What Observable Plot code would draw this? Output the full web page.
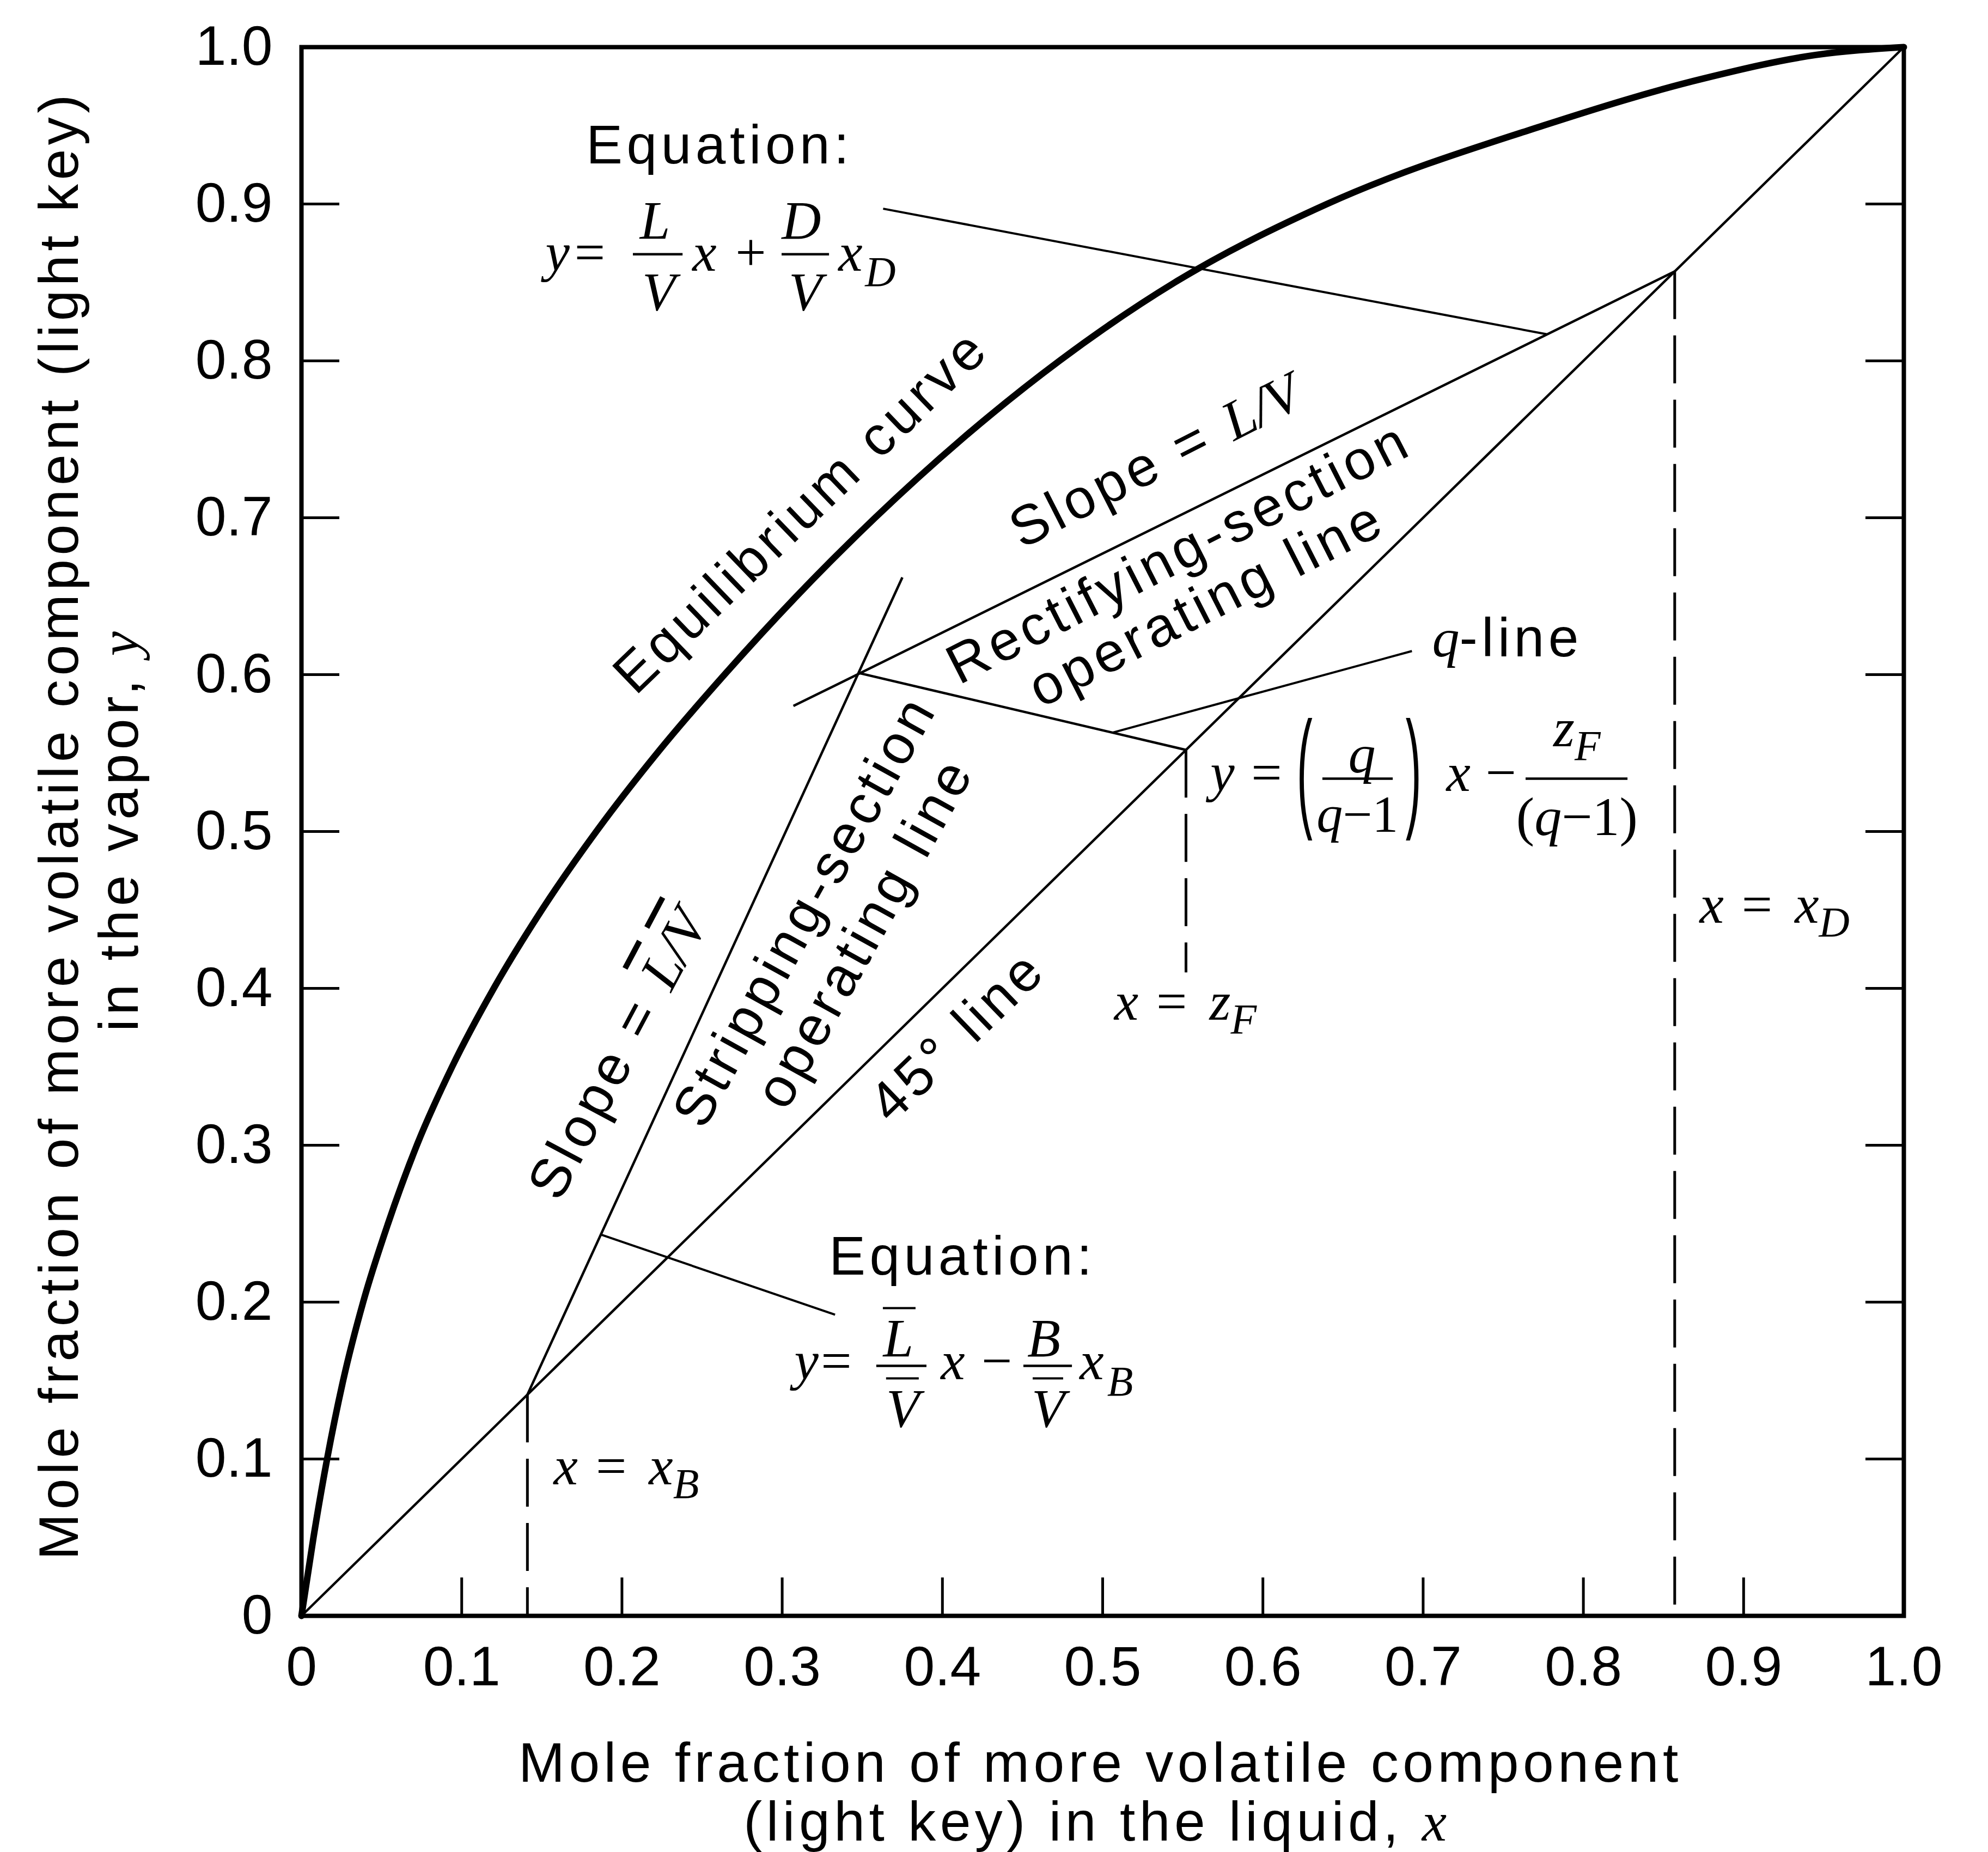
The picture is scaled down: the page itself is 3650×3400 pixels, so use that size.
<!DOCTYPE html>
<html>
<head>
<meta charset="utf-8">
<script src="https://cdn.jsdelivr.net/npm/d3@7"></script>
<script src="https://cdn.jsdelivr.net/npm/@observablehq/plot@0.6"></script>
<style>
  html, body { margin: 0; padding: 0; background: #fff; }
  #chart svg { display: block; }
</style>
</head>
<body>
<div id="chart"></div>
<script>
// McCabe–Thiele diagram: equilibrium curve, 45° line, rectifying and
// stripping operating lines, q-line and the composition markers.

// Equilibrium curve, y against x
const eqX = [0, 0.0075, 0.016, 0.026, 0.0385, 0.054, 0.072, 0.094, 0.120, 0.150, 0.184, 0.222, 0.264, 0.309, 0.358, 0.412, 0.473, 0.545, 0.640, 0.775, 0.875, 0.945, 1.0];
const eqY = [0, 0.050, 0.100, 0.150, 0.200, 0.250, 0.300, 0.350, 0.400, 0.450, 0.500, 0.550, 0.600, 0.650, 0.700, 0.750, 0.800, 0.850, 0.900, 0.950, 0.980, 0.995, 1.0];

// Key compositions
const xB = 0.141;   // bottoms
const zF = 0.552;   // feed
const xD = 0.857;   // distillate

// Where the operating lines and the q-line meet
const pinch = {x: 0.348, y: 0.601};

// Straight lines of the construction
const diagonal = [0, 1];
const operatingLines = [
  {name: "rectifying", x1: 0.307, y1: 0.580, x2: xD, y2: xD},
  {name: "stripping", x1: xB, y1: xB, x2: 0.375, y2: 0.662},
  {name: "q-line", x1: pinch.x, y1: pinch.y, x2: zF, y2: zF}
];
const leaders = [
  {x1: 0.363, y1: 0.897, x2: 0.777, y2: 0.817},
  {x1: 0.506, y1: 0.563, x2: 0.693, y2: 0.615},
  {x1: 0.187, y1: 0.243, x2: 0.333, y2: 0.192}
];
const dropLines = [
  {x: xB, top: xB, bottom: 0},
  {x: zF, top: zF, bottom: 0.41},
  {x: xD, top: xD, bottom: 0}
];

// Axis ticks
const ticks = [0, 0.1, 0.2, 0.3, 0.4, 0.5, 0.6, 0.7, 0.8, 0.9, 1.0];
const tickLabels = ["0", "0.1", "0.2", "0.3", "0.4", "0.5", "0.6", "0.7", "0.8", "0.9", "1.0"];
const innerTicks = ticks.slice(1, -1);

const SANS = "'Liberation Sans', Arial, Helvetica, sans-serif";
const SERIF = "'Liberation Serif', 'Times New Roman', Times, serif";

// Fraction bars and overbars of the printed equations
const fractionBars = [
  {y: 0.868, x1: 0.207, x2: 0.238},
  {y: 0.868, x1: 0.2998, x2: 0.3294},
  {y: 0.5337, x1: 0.6373, x2: 0.6812},
  {y: 0.5337, x1: 0.7641, x2: 0.8277},
  {y: 0.1594, x1: 0.3589, x2: 0.3902},
  {y: 0.1594, x1: 0.4507, x2: 0.481}
];
const overBars = [
  {y: 0.1962, x1: 0.363, x2: 0.3834},
  {y: 0.1514, x1: 0.365, x2: 0.3854},
  {y: 0.1514, x1: 0.4565, x2: 0.4755}
];

// Text annotations: parts are [kind, string]
// s = sans, i = serif italic, r = serif roman, w = roman with wide spacing,
// o = italic with overbar, b = italic subscript
const labels = [
  // rectifying-section equation
  {x: 0.261, y: 0.9257, parts: [["s", "Equation:"]]},
  {x: 0.1523, y: 0.8573, anchor: "start", parts: [["i", "y"]]},
  {x: 0.180, y: 0.8573, parts: [["r", "="]]},
  {x: 0.2206, y: 0.8778, parts: [["i", "L"]]},
  {x: 0.223, y: 0.8326, parts: [["i", "V"]]},
  {x: 0.2515, y: 0.8573, parts: [["i", "x"]]},
  {x: 0.2804, y: 0.8573, parts: [["r", "+"]]},
  {x: 0.312, y: 0.8781, parts: [["i", "D"]]},
  {x: 0.3144, y: 0.8326, parts: [["i", "V"]]},
  {x: 0.3426, y: 0.8573, parts: [["i", "x"]]},
  {x: 0.3613, y: 0.8476, size: 78, parts: [["i", "D"]]},

  // q-line equation
  {x: 0.7056, y: 0.6115, anchor: "start", parts: [["i", "q"], ["s", "-line"]]},
  {x: 0.5748, y: 0.5257, parts: [["i", "y"]]},
  {x: 0.6023, y: 0.5257, parts: [["r", "="]]},
  {x: 0.6265, y: 0.5115, size: 242, sx: 0.36, parts: [["s", "("]]},
  {x: 0.6618, y: 0.5378, parts: [["i", "q"]]},
  {x: 0.6590, y: 0.500, size: 96, parts: [["i", "q"], ["r", "−1"]]},
  {x: 0.6945, y: 0.5115, size: 242, sx: 0.36, parts: [["s", ")"]]},
  {x: 0.722, y: 0.5257, parts: [["i", "x"]]},
  {x: 0.7485, y: 0.5257, parts: [["r", "−"]]},
  {x: 0.796, y: 0.5545, parts: [["i", "z"], ["b", "F"]]},
  {x: 0.796, y: 0.4979, parts: [["r", "("], ["i", "q"], ["r", "−1)"]]},
  {x: 0.5072, y: 0.3802, anchor: "start", parts: [["i", "x"], ["w", " = "], ["i", "z"], ["b", "F"]]},
  {x: 0.8725, y: 0.442, anchor: "start", parts: [["i", "x"], ["w", " = "], ["i", "x"], ["b", "D"]]},

  // stripping-section equation
  {x: 0.4126, y: 0.2177, parts: [["s", "Equation:"]]},
  {x: 0.3076, y: 0.1507, anchor: "start", parts: [["i", "y"]]},
  {x: 0.3338, y: 0.1507, parts: [["r", "="]]},
  {x: 0.3725, y: 0.1653, parts: [["i", "L"]]},
  {x: 0.3753, y: 0.1205, parts: [["i", "V"]]},
  {x: 0.4065, y: 0.1507, parts: [["i", "x"]]},
  {x: 0.434, y: 0.1507, parts: [["r", "−"]]},
  {x: 0.4633, y: 0.1653, parts: [["i", "B"]]},
  {x: 0.466, y: 0.1205, parts: [["i", "V"]]},
  {x: 0.4932, y: 0.1507, parts: [["i", "x"]]},
  {x: 0.5109, y: 0.1406, size: 78, parts: [["i", "B"]]},
  {x: 0.1574, y: 0.084, anchor: "start", parts: [["i", "x"], ["w", " = "], ["i", "x"], ["b", "B"]]},

  // labels set along the lines
  {x: 0.312, y: 0.704, rotate: -44, line: "middle", size: 102, parts: [["s", "Equilibrium curve"]]},
  {x: 0.533, y: 0.736, rotate: -27, line: "middle", size: 102, parts: [["s", "Slope = "], ["i", "L/V"]]},
  {x: 0.5476, y: 0.6774, rotate: -27, line: "middle", size: 102, parts: [["s", "Rectifying-section"]]},
  {x: 0.565, y: 0.6451, rotate: -27, line: "middle", size: 102, parts: [["s", "operating line"]]},
  {x: 0.3144, y: 0.4493, rotate: -61, line: "middle", size: 102, parts: [["s", "Stripping-section"]]},
  {x: 0.3518, y: 0.4354, rotate: -61, line: "middle", size: 102, parts: [["s", "operating line"]]},
  {x: 0.1978, y: 0.358, rotate: -62, line: "middle", size: 102, parts: [["s", "Slope = "], ["o", "L"], ["i", "/"], ["o", "V"]]},
  {x: 0.4096, y: 0.3694, rotate: -44, line: "middle", size: 102, parts: [["s", "45° line"]]},

  // axis titles
  {x: -0.1397, y: 0.504, rotate: -90, size: 102, parts: [["s", "Mole fraction of more volatile component (light key)"]]},
  {x: -0.102, y: 0.5, rotate: -90, size: 102, parts: [["s", "in the vapor, "], ["i", "y"]]},
  {x: 0.4986, y: -0.1056, size: 102, parts: [["s", "Mole fraction of more volatile component"]]},
  {x: 0.4953, y: -0.1431, size: 102, parts: [["s", "(light key) in the liquid, "], ["i", "x"]]}
].map((d, i) => ({...d, id: `note-${i}`}));

function textMark(spec) {
  const plain = spec.parts.map((p) => p[1]).join("");
  const first = spec.parts[0][0];
  return Plot.text([spec], {
    x: "x",
    y: "y",
    text: () => plain,
    textAnchor: spec.anchor ?? "middle",
    lineAnchor: spec.line ?? "bottom",
    rotate: spec.rotate ?? 0,
    fontSize: spec.size ?? 100,
    fontFamily: first === "s" ? SANS : SERIF,
    fill: "#000",
    ariaLabel: () => spec.id
  });
}

const plot = Plot.plot({
  width: 3650,
  height: 3400,
  marginLeft: 553,
  marginRight: 155,
  marginTop: 86,
  marginBottom: 434,
  style: {fontFamily: SANS, fontSize: "102px", color: "#000", background: "#fff"},
  x: {domain: [0, 1], ticks, tickFormat: (d) => tickLabels[ticks.indexOf(d)], tickSize: 0, tickPadding: 55, label: null},
  y: {domain: [0, 1], ticks, tickFormat: (d) => tickLabels[ticks.indexOf(d)], tickSize: 0, tickPadding: 53, label: null},
  marks: [
    // inward tick marks on the left, right and bottom edges
    Plot.ruleY(innerTicks, {y: (d) => d, x1: 0, x2: 0, insetLeft: 70, stroke: "#000", strokeWidth: 5}),
    Plot.ruleY(innerTicks, {y: (d) => d, x1: 1, x2: 1, insetRight: 70, stroke: "#000", strokeWidth: 5}),
    Plot.ruleX(innerTicks, {x: (d) => d, y1: 0, y2: 0, insetBottom: 70, stroke: "#000", strokeWidth: 5}),

    // 45° line
    Plot.line(diagonal, {x: (d) => d, y: (d) => d, stroke: "#000", strokeWidth: 4.5}),

    // operating lines and q-line
    Plot.link(operatingLines, {x1: "x1", y1: "y1", x2: "x2", y2: "y2", stroke: "#000", strokeWidth: 4.5}),

    // leader lines from the equations
    Plot.link(leaders, {x1: "x1", y1: "y1", x2: "x2", y2: "y2", stroke: "#000", strokeWidth: 4}),

    // dashed drops at x = xB, zF, xD
    Plot.ruleX(dropLines, {x: "x", y1: "top", y2: "bottom", stroke: "#000", strokeWidth: 5, strokeDasharray: "88,30"}),

    // equilibrium curve
    Plot.line(eqX.map((x, i) => ({x, y: eqY[i]})), {x: "x", y: "y", curve: "monotone-x", stroke: "#000", strokeWidth: 12, strokeLinejoin: "round"}),

    // fraction bars and overbars
    Plot.ruleY(fractionBars, {y: "y", x1: "x1", x2: "x2", stroke: "#000", strokeWidth: 4.5}),
    Plot.ruleY(overBars, {y: "y", x1: "x1", x2: "x2", stroke: "#000", strokeWidth: 4}),

    Plot.frame({stroke: "#000", strokeWidth: 8}),

    ...labels.map(textMark)
  ]
});

// Mixed sans / italic serif runs inside each annotation
const SVGNS = "http://www.w3.org/2000/svg";
for (const spec of labels) {
  const node = plot.querySelector(`text[aria-label="${spec.id}"]`);
  if (!node) continue;
  const size = spec.size ?? 100;
  node.textContent = "";
  let shift = 0;
  for (const [kind, str] of spec.parts) {
    const t = document.createElementNS(SVGNS, "tspan");
    const serif = kind !== "s";
    t.setAttribute("font-family", serif ? SERIF : SANS);
    t.setAttribute("font-style", kind === "r" || kind === "w" || kind === "s" ? "normal" : "italic");
    t.setAttribute("letter-spacing", kind === "s" ? "7.5px" : kind === "w" ? "8px" : "0px");
    if (kind === "o") {
      t.setAttribute("text-decoration", "overline");
      t.setAttribute("style", "text-decoration-thickness: 4px");
    }
    if (kind === "b") t.setAttribute("font-size", size * 0.78);
    const target = kind === "b" ? size * 0.25 : 0;
    if (target !== shift) {
      t.setAttribute("dy", target - shift);
      shift = target;
    }
    t.textContent = str;
    node.appendChild(t);
  }
  if (spec.sx) {
    const tr = node.getAttribute("transform") || "";
    node.setAttribute("transform", `${tr} scale(${spec.sx},1)`);
  }
}

document.getElementById("chart").appendChild(plot);
</script>
</body>
</html>
